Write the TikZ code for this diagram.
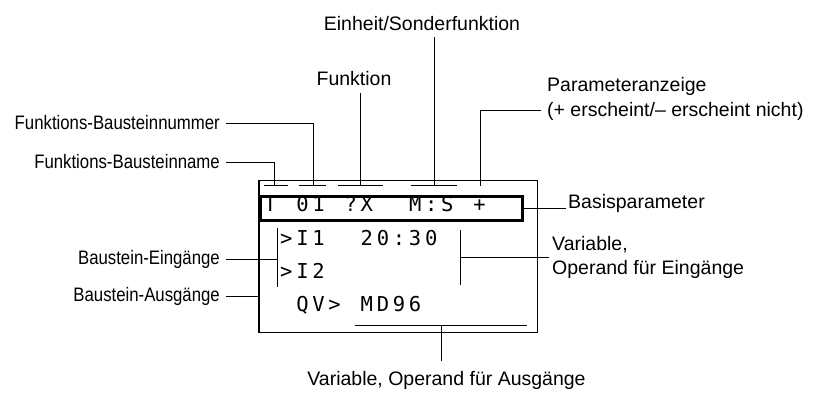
\documentclass[tikz,border=0pt]{standalone}
\usepackage{fontspec}
\setmainfont{Liberation Sans}
\newfontfamily\narrowsf{Liberation Sans}[FakeStretch=0.86]
\newfontfamily\lcdfont{DejaVu Sans Mono}[LetterSpace=18.3]
\usetikzlibrary{calc}
\tikzstyle{lbl} = [inner sep=0pt, font=\fontsize{19.5}{24}\selectfont]
\tikzstyle{lbll} = [inner sep=0pt, anchor=east, font=\narrowsf\fontsize{19.5}{24}\selectfont]
\tikzstyle{lcd} = [inner sep=0pt, anchor=base west, font=\lcdfont\fontsize{20.5}{24}\selectfont]
\tikzstyle{conn} = [line width=1pt]

\begin{document}
\begin{tikzpicture}[x=1pt,y=-1pt]
    \useasboundingbox (0,0) rectangle (824,392);
    % display
    \node[draw, line width=1.3pt, inner sep=0pt, minimum width=278.5, minimum height=151.6] (disp) at (398.25,256.5) {};
    \node[draw, line width=3pt, inner sep=0pt, minimum width=261.6, minimum height=23.5] (basis) at (391.5,208.25) {};
    \node[lcd] (fname) at (263.9,211.5) {T};
    \node[lcd] (fnum) at (296.1,211.5) {01};
    \node[lcd] (ffn) at (344.4,211.5) {?X};
    \node[lcd] (fun) at (408.8,211.5) {M:S};
    \node[lcd] (fpar) at (473.2,211.5) {+};
    \node[lcd] (in1) at (280,245) {>I1};
    \node[lcd] (val) at (360.5,245) {20:30};
    \node[lcd] (in2) at (280,278.3) {>I2};
    \node[lcd] (qv) at (296.1,311.7) {QV>};
    \node[lcd] (md) at (360.5,311.7) {MD96};
    % ticks
    \coordinate (tT) at (274,185.7);
    \coordinate (t01) at (313,185.7);
    \coordinate (tfn) at (360,185.7);
    \coordinate (tun) at (434.7,185.7);
    \coordinate (tpar) at (480,185.7);
    \draw[conn] (264,185.7) -- (288,185.7);
    \draw[conn] (299,185.7) -- (326,185.7);
    \draw[conn] (338,185.7) -- (383,185.7);
    \draw[conn] (411,185.7) -- (457,185.7);
    \coordinate (inT) at (277.7,227.7);
    \coordinate (inB) at (277.7,287.3);
    \coordinate (vT) at (460,230);
    \coordinate (vB) at (460,285);
    \coordinate (ul) at (441.3,325.7);
    \draw[conn] (355,325.7) -- (526.7,325.7);
    % labels
    \node[lbll] (lname) at (220,162) {Funktions-Bausteinname};
    \node[lbll] (lnum) at (220,123) {Funktions-Bausteinnummer};
    \node[lbl, anchor=base] (lfn) at (354,85) {Funktion};
    \node[lbl, anchor=base] (lun) at (422,30) {Einheit/Sonderfunktion};
    \node[lbl, anchor=base west] (lpar) at (547,91.7) {Parameteranzeige};
    \node[lbl, anchor=base west] (lpar2) at (547,116) {(+ erscheint/– erscheint nicht)};
    \node[lbl, anchor=base west] (lbasis) at (568,208) {Basisparameter};
    \node[lbl, anchor=west, align=left] (lvar) at (552,257) {Variable,\\Operand für Eingänge};
    \node[lbll] (lin) at (220,259) {Baustein-Eingänge};
    \node[lbll] (lout) at (220,296) {Baustein-Ausgänge};
    \node[lbl, anchor=base] (lvo) at (446.5,385.7) {Variable, Operand für Ausgänge};
    % connectors
    \draw[conn] ([xshift=6pt]lname.east) -| (tT);
    \draw[conn] ([xshift=6pt]lnum.east) -| (t01);
    \draw[conn] ([yshift=-8pt]tfn |- lfn.south) -- (tfn);
    \draw[conn] ([yshift=-6.7pt]tun |- lun.south) -- (tun);
    \draw[conn] ([xshift=-6pt]lpar2.west) -| (tpar);
    \draw[conn] (basis.east) -- ([xshift=-2pt]basis.east -| lbasis.west);
    \draw[conn] (inT) -- (inB);
    \draw[conn] ([xshift=6pt]lin.east) -- (lin.east -| inT);
    \draw[conn] (vT) -- (vB);
    \draw[conn] ([xshift=-3pt]lvar.west) -- (lvar.west -| vT);
    \draw[conn] ([xshift=6pt]lout.east) -- (lout.east -| disp.west);
    \draw[conn] (ul) -- ([yshift=10.7pt]ul |- lvo.north);
\end{tikzpicture}
\end{document}
